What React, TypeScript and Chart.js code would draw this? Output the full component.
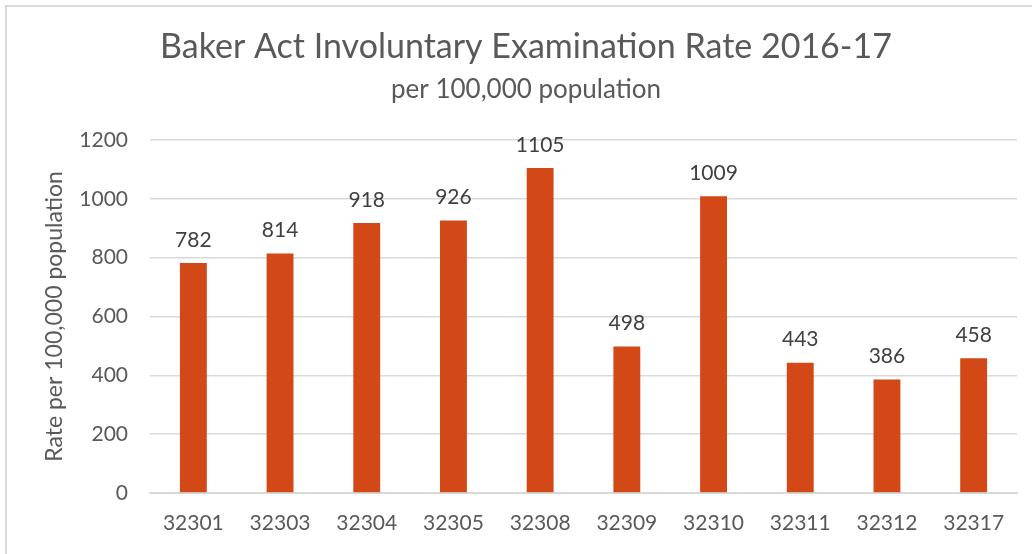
import React, { useEffect, useRef } from "react";
import { Chart, registerables } from "chart.js";

Chart.register(...registerables);

const categories = ["32301", "32303", "32304", "32305", "32308", "32309", "32310", "32311", "32312", "32317"];
const rates = [782, 814, 918, 926, 1105, 498, 1009, 443, 386, 458];
const titleText = "Baker Act Involuntary Examination Rate 2016-17";
const subtitleText = "per 100,000 population";
const yAxisTitle = "Rate per 100,000 population";

const FONT = "Lato, 'Open Sans', sans-serif";
const TEXT = "#595959";

const valueLabels = {
  id: "valueLabels",
  afterDatasetsDraw(chart: any) {
    const { ctx } = chart;
    const meta = chart.getDatasetMeta(0);
    ctx.save();
    ctx.font = `21px ${FONT}`;
    ctx.fillStyle = "#404040";
    ctx.textAlign = "center";
    ctx.textBaseline = "middle";
    meta.data.forEach((bar: any, i: number) => {
      ctx.fillText(String(chart.data.datasets[0].data[i]), bar.x, bar.y - 23);
    });
    ctx.restore();
  },
};

export default function App() {
  const ref = useRef<HTMLCanvasElement>(null);
  useEffect(() => {
    if (!ref.current) return;
    const chart = new Chart(ref.current, {
      type: "bar",
      data: {
        labels: categories,
        datasets: [
          {
            data: rates,
            backgroundColor: "#D34817",
            barPercentage: 0.62,
            categoryPercentage: 0.5,
          },
        ],
      },
      options: {
        animation: false,
        responsive: false,
        maintainAspectRatio: false,
        layout: { padding: { left: 35, right: 15, top: 10, bottom: 0 } },
        plugins: {
          legend: { display: false },
          tooltip: { enabled: false },
          title: {
            display: true,
            text: titleText,
            color: TEXT,
            font: { family: FONT, size: 34, weight: "normal" },
            padding: { top: 16.6, bottom: 7 },
          },
          subtitle: {
            display: true,
            text: subtitleText,
            color: TEXT,
            font: { family: FONT, size: 26, weight: "normal" },
            padding: { top: 0, bottom: 34.4 },
          },
        },
        scales: {
          x: {
            grid: { display: false, drawTicks: false },
            border: { color: "#d9d9d9", width: 2 },
            ticks: { color: TEXT, font: { family: FONT, size: 21 }, padding: 18, maxRotation: 0 },
            afterFit: (s: any) => { s.height = 61; },
          },
          y: {
            min: 0,
            max: 1200,
            ticks: {
              stepSize: 200,
              color: TEXT,
              font: { family: FONT, size: 21 },
              padding: 22,
              callback: (v: any) => String(v),
            },
            grid: { color: "#d9d9d9", lineWidth: 1.5, drawTicks: false },
            border: { display: false },
            title: {
              display: true,
              text: yAxisTitle,
              color: TEXT,
              font: { family: FONT, size: 23, weight: "normal" },
              padding: { top: 6, bottom: 0 },
            },
            afterFit: (s: any) => { s.width = 115; },
          },
        },
      },
      plugins: [valueLabels],
    });
    return () => chart.destroy();
  }, []);

  return (
    <div style={{ position: "fixed", left: 0, top: 0, width: 1032, height: 554, overflow: "hidden", background: "#fff" }}>
      <div
        style={{
          position: "absolute",
          left: 5,
          top: 5,
          width: 1040,
          height: 600,
          borderTop: "2px solid #d9d9d9",
          borderLeft: "2px solid #d9d9d9",
        }}
      />
      <canvas ref={ref} width={1032} height={554} style={{ position: "absolute", left: 0, top: 0 }} />
    </div>
  );
}
